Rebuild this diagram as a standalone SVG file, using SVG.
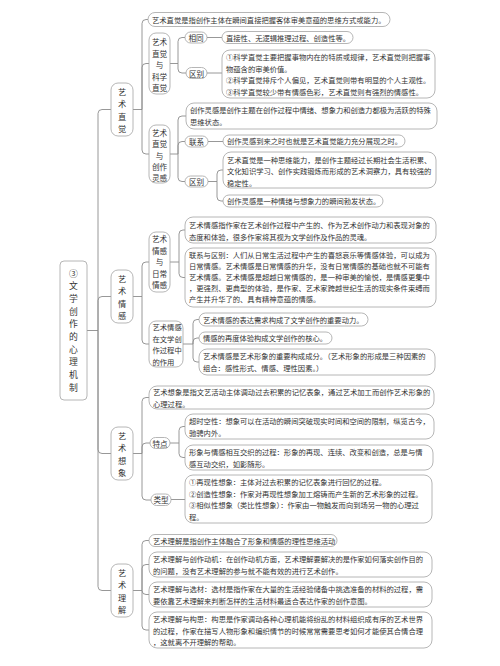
<svg xmlns="http://www.w3.org/2000/svg" width="500" height="666" viewBox="0 0 500 666">
<style>
.bg{fill:#fff}
.box{fill:#fff;stroke:#a3a3a3;stroke-width:0.8}
.c{fill:none;stroke:#8c8c8c;stroke-width:0.9}
text{font-family:"Noto Sans CJK SC","Noto Sans",sans-serif;fill:#333;dominant-baseline:central}
.t{font-size:7.3px}
.m{text-anchor:middle;font-size:7.6px}
.l1{text-anchor:middle;font-size:8.2px}
.r{text-anchor:middle;font-size:8.8px}
</style>
<rect class="bg" x="0" y="0" width="500" height="666"/>
<g id="connectors">
<path class="c" d="M87,330.5 H98"/>
<path class="c" d="M98,330.5 V113.5 Q98,109.5 102,109.5 H111"/>
<path class="c" d="M98,330.5 V300.5 Q98,296.5 102,296.5 H111"/>
<path class="c" d="M98,330.5 V449.5 Q98,453.5 102,453.5 H111"/>
<path class="c" d="M98,330.5 V586.5 Q98,590.5 102,590.5 H111"/>
<path class="c" d="M133,109.5 H142"/>
<path class="c" d="M142,109.5 V23.5 Q142,19.5 146,19.5 H148"/>
<path class="c" d="M142,109.5 V67.5 Q142,63.5 146,63.5 H149"/>
<path class="c" d="M142,109.5 V150 Q142,154 146,154 H149"/>
<path class="c" d="M170,63.5 H178"/>
<path class="c" d="M178,63.5 V41.5 Q178,37.5 182,37.5 H185"/>
<path class="c" d="M178,63.5 V69 Q178,73 182,73 H186"/>
<path class="c" d="M207,37.5 H222"/>
<path class="c" d="M207,73 H222"/>
<path class="c" d="M170,154 H178"/>
<path class="c" d="M178,154 V120 Q178,116 182,116 H186"/>
<path class="c" d="M178,154 V145.5 Q178,141.5 182,141.5 H185"/>
<path class="c" d="M178,154 V177.5 Q178,181.5 182,181.5 H185"/>
<path class="c" d="M208,141.5 H223"/>
<path class="c" d="M208,181.5 H217"/>
<path class="c" d="M217,181.5 V174 Q217,170 221,170 H223"/>
<path class="c" d="M217,181.5 V197 Q217,201 221,201 H223"/>
<path class="c" d="M133,296.5 H142"/>
<path class="c" d="M142,296.5 V266 Q142,262 146,262 H149"/>
<path class="c" d="M142,296.5 V340 Q142,344 146,344 H149"/>
<path class="c" d="M170,262 H179"/>
<path class="c" d="M179,262 V234 Q179,230 183,230 H185"/>
<path class="c" d="M179,262 V273.5 Q179,277.5 183,277.5 H185"/>
<path class="c" d="M183,344 H193"/>
<path class="c" d="M193,344 V323.5 Q193,319.5 197,319.5 H199"/>
<path class="c" d="M193,344 V342 Q193,338 197,338 H199"/>
<path class="c" d="M193,344 V358 Q193,362 197,362 H199"/>
<path class="c" d="M133,453.5 H142"/>
<path class="c" d="M142,453.5 V401.5 Q142,397.5 146,397.5 H149"/>
<path class="c" d="M142,453.5 V447 Q142,443 146,443 H150"/>
<path class="c" d="M142,453.5 V496 Q142,500 146,500 H151"/>
<path class="c" d="M170,443 H179"/>
<path class="c" d="M179,443 V430.5 Q179,426.5 183,426.5 H185"/>
<path class="c" d="M179,443 V453.5 Q179,457.5 183,457.5 H185"/>
<path class="c" d="M171,499.5 H185"/>
<path class="c" d="M133,590.5 H142"/>
<path class="c" d="M142,590.5 V544.5 Q142,540.5 146,540.5 H149"/>
<path class="c" d="M142,590.5 V568.5 Q142,564.5 146,564.5 H149"/>
<path class="c" d="M142,590.5 Q142,594.5 146,594.5 H149"/>
<path class="c" d="M142,590.5 V626 Q142,630 146,630 H149"/>
</g>
<g id="root">
<rect class="box" x="60" y="261" width="27" height="139" rx="4"/>
<text class="r" x="73.5" y="273">③</text><text class="r" x="73.5" y="285.7">文</text><text class="r" x="73.5" y="298.4">学</text><text class="r" x="73.5" y="311.1">创</text><text class="r" x="73.5" y="323.8">作</text><text class="r" x="73.5" y="336.5">的</text><text class="r" x="73.5" y="349.2">心</text><text class="r" x="73.5" y="361.9">理</text><text class="r" x="73.5" y="374.6">机</text><text class="r" x="73.5" y="387.3">制</text>
</g>
<g id="n-zhijue">
<rect class="box" x="111" y="83" width="22" height="53" rx="7"/>
<text class="l1" x="122" y="91">艺</text><text class="l1" x="122" y="103.3">术</text><text class="l1" x="122" y="115.7">直</text><text class="l1" x="122" y="128">觉</text>
</g>
<g id="n-zj-def">
<rect class="box" x="148" y="12.5" width="242" height="14" rx="7"/>
<text class="t" x="152" y="19.5">艺术直觉是指创作主体在瞬间直接把握客体审美意蕴的思维方式或能力。</text>
</g>
<g id="n-zj-kx">
<rect class="box" x="149" y="33" width="21" height="61" rx="7"/>
<text class="m" x="159.5" y="41.5">艺术</text><text class="m" x="159.5" y="53">直觉</text><text class="m" x="159.5" y="64.5">与</text><text class="m" x="159.5" y="76">科学</text><text class="m" x="159.5" y="87.5">直觉</text>
</g>
<g id="n-kx-same">
<rect class="box" x="185" y="32" width="22" height="11" rx="5.5"/>
<text class="m" x="196" y="37.5">相同</text>
</g>
<g id="n-kx-same-t">
<rect class="box" x="222" y="31.5" width="131" height="12" rx="6"/>
<text class="t" x="226" y="37.5">直接性、无逻辑推理过程、创造性等。</text>
</g>
<g id="n-kx-diff">
<rect class="box" x="186" y="67.5" width="21" height="11" rx="5.5"/>
<text class="m" x="196.5" y="73">区别</text>
</g>
<g id="n-kx-diff-t">
<rect class="box" x="222" y="50" width="213" height="48" rx="8"/>
<text class="t" x="226" y="57">①科学直觉主要把握事物内在的特质或规律，艺术直觉则把握事</text>
<text class="t" x="226" y="68.5">物蕴含的审美价值。</text>
<text class="t" x="226" y="80">②科学直觉排斥个人偏见，艺术直觉则带有明显的个人主观性。</text>
<text class="t" x="226" y="91.5">③科学直觉较少带有情感色彩，艺术直觉则有强烈的情感性。</text>
</g>
<g id="n-zj-lg">
<rect class="box" x="149" y="125" width="21" height="58" rx="7"/>
<text class="m" x="159.5" y="132.5">艺术</text><text class="m" x="159.5" y="143.8">直觉</text><text class="m" x="159.5" y="155">与</text><text class="m" x="159.5" y="166.3">创作</text><text class="m" x="159.5" y="177.5">灵感</text>
</g>
<g id="n-lg-def">
<rect class="box" x="186" y="103" width="251" height="26" rx="8"/>
<text class="t" x="190" y="109.5">创作灵感是创作主题在创作过程中情绪、想象力和创造力都极为活跃的特殊</text>
<text class="t" x="190" y="122">思维状态。</text>
</g>
<g id="n-lg-link">
<rect class="box" x="185" y="136" width="23" height="11" rx="5.5"/>
<text class="m" x="196.5" y="141.5">联系</text>
</g>
<g id="n-lg-link-t">
<rect class="box" x="223" y="135" width="182" height="12" rx="6"/>
<text class="t" x="227" y="141.2">创作灵感到来之时也就是艺术直觉能力充分展现之时。</text>
</g>
<g id="n-lg-diff">
<rect class="box" x="185" y="176" width="23" height="11" rx="5.5"/>
<text class="m" x="196.5" y="181.5">区别</text>
</g>
<g id="n-lg-diff-1">
<rect class="box" x="223" y="152" width="213" height="36" rx="8"/>
<text class="t" x="227" y="159.5">艺术直觉是一种思维能力，是创作主题经过长期社会生活积累、</text>
<text class="t" x="227" y="171">文化知识学习、创作实践锻炼而形成的艺术洞察力，具有较强的</text>
<text class="t" x="227" y="182.5">稳定性。</text>
</g>
<g id="n-lg-diff-2">
<rect class="box" x="223" y="195" width="160" height="12" rx="6"/>
<text class="t" x="227" y="201">创作灵感是一种情绪与想象力的瞬间勃发状态。</text>
</g>
<g id="n-qinggan">
<rect class="box" x="111" y="270" width="22" height="53" rx="7"/>
<text class="l1" x="122" y="278">艺</text><text class="l1" x="122" y="290.3">术</text><text class="l1" x="122" y="302.7">情</text><text class="l1" x="122" y="315">感</text>
</g>
<g id="n-qg-rc">
<rect class="box" x="149" y="232" width="21" height="60" rx="7"/>
<text class="m" x="159.5" y="238.5">艺术</text><text class="m" x="159.5" y="250">情感</text><text class="m" x="159.5" y="261.5">与</text><text class="m" x="159.5" y="273">日常</text><text class="m" x="159.5" y="284.5">情感</text>
</g>
<g id="n-rc-def">
<rect class="box" x="185" y="217" width="251" height="26" rx="8"/>
<text class="t" x="189" y="224.5">艺术情感指作家在艺术创作过程中产生的、作为艺术创作动力和表现对象的</text>
<text class="t" x="189" y="236.5">态度和体验，很多作家将其视为文学创作及作品的灵魂。</text>
</g>
<g id="n-rc-link">
<rect class="box" x="185" y="248" width="251" height="59" rx="8"/>
<text class="t" x="189" y="255">联系与区别：人们从日常生活过程中产生的喜怒哀乐等情感体验，可以成为</text>
<text class="t" x="189" y="266">日常情感。艺术情感是日常情感的升华，没有日常情感的基础也就不可能有</text>
<text class="t" x="189" y="277">艺术情感。艺术情感是超越日常情感的，是一种审美的愉悦，是情感更集中</text>
<text class="t" x="189" y="288">，更强烈、更典型的体验，是作家、艺术家跨越世纪生活的现实条件束缚而</text>
<text class="t" x="189" y="299">产生并升华了的、具有精神意蕴的情感。</text>
</g>
<g id="n-qg-zy">
<rect class="box" x="149" y="321" width="34" height="46" rx="7"/>
<text class="t" x="152.5" y="327">艺术情感</text><text class="t" x="152.5" y="338.5">在文学创</text><text class="t" x="152.5" y="350">作过程中</text><text class="t" x="152.5" y="361.5">的作用</text>
</g>
<g id="n-zy-1">
<rect class="box" x="199" y="313" width="169" height="13" rx="6.5"/>
<text class="t" x="203" y="319.5">艺术情感的表达需求构成了文学创作的重要动力。</text>
</g>
<g id="n-zy-2">
<rect class="box" x="199" y="332" width="133" height="12" rx="6"/>
<text class="t" x="203" y="338">情感的再度体验构成文学创作的核心。</text>
</g>
<g id="n-zy-3">
<rect class="box" x="199" y="349" width="236" height="26" rx="8"/>
<text class="t" x="203" y="356">艺术情感是艺术形象的重要构成成分。（艺术形象的形成是三种因素的</text>
<text class="t" x="203" y="368">组合：感性形式、情感、理性因素。）</text>
</g>
<g id="n-xiangxiang">
<rect class="box" x="111" y="427" width="22" height="53" rx="7"/>
<text class="l1" x="122" y="435">艺</text><text class="l1" x="122" y="447.3">术</text><text class="l1" x="122" y="459.7">想</text><text class="l1" x="122" y="472">象</text>
</g>
<g id="n-xx-def">
<rect class="box" x="149" y="386" width="285" height="23" rx="8"/>
<text class="t" x="153" y="392">艺术想象是指文艺活动主体调动过去积累的记忆表象，通过艺术加工而创作艺术形象的</text>
<text class="t" x="153" y="403.5">心理过程。</text>
</g>
<g id="n-xx-td">
<rect class="box" x="150" y="437.5" width="20" height="11" rx="5.5"/>
<text class="m" x="160" y="443">特点</text>
</g>
<g id="n-td-1">
<rect class="box" x="185" y="414" width="249" height="25" rx="8"/>
<text class="t" x="189" y="420.5">超时空性：想象可以在活动的瞬间突破现实时间和空间的限制，纵览古今，</text>
<text class="t" x="189" y="432.5">驰骋内外。</text>
</g>
<g id="n-td-2">
<rect class="box" x="185" y="445" width="248" height="25" rx="8"/>
<text class="t" x="189" y="451.5">形象与情感相互交织的过程：形象的再现、连续、改变和创造，总是与情</text>
<text class="t" x="189" y="463.5">感互动交织，如影随形。</text>
</g>
<g id="n-xx-lx">
<rect class="box" x="151" y="494" width="20" height="11.5" rx="5.5"/>
<text class="m" x="161" y="499.7">类型</text>
</g>
<g id="n-lx-t">
<rect class="box" x="185" y="475" width="247" height="48" rx="8"/>
<text class="t" x="189" y="482">①再现性想象：主体对过去积累的记忆表象进行回忆的过程。</text>
<text class="t" x="189" y="493.5">②创造性想象：作家对再现性想象加工熔铸而产生新的艺术形象的过程。</text>
<text class="t" x="189" y="505">③相似性想象（类比性想象）：作家由一物触发而向到场另一物的心理过</text>
<text class="t" x="189" y="516.5">程。</text>
</g>
<g id="n-lijie">
<rect class="box" x="111" y="564" width="22" height="53" rx="7"/>
<text class="l1" x="122" y="572">艺</text><text class="l1" x="122" y="584.3">术</text><text class="l1" x="122" y="596.7">理</text><text class="l1" x="122" y="609">解</text>
</g>
<g id="n-lj-def">
<rect class="box" x="149" y="534.5" width="188" height="12" rx="6"/>
<text class="t" x="153" y="540.5">艺术理解是指创作主体融合了形象和情感的理性思维活动</text>
</g>
<g id="n-lj-dj">
<rect class="box" x="149" y="552" width="283" height="25" rx="8"/>
<text class="t" x="153" y="558.5">艺术理解与创作动机：在创作动机方面，艺术理解要解决的是作家如何落实创作目的</text>
<text class="t" x="153" y="570.5">的问题，没有艺术理解的参与就不能有效的进行艺术创作。</text>
</g>
<g id="n-lj-xc">
<rect class="box" x="149" y="582" width="283" height="25" rx="8"/>
<text class="t" x="153" y="588.5">艺术理解与选材：选材是指作家在大量的生活经验储备中挑选准备的材料的过程，需</text>
<text class="t" x="153" y="600.5">要依靠艺术理解来判断怎样的生活材料最适合表达作家的创作意图。</text>
</g>
<g id="n-lj-gs">
<rect class="box" x="149" y="612" width="283" height="36" rx="8"/>
<text class="t" x="153" y="619">艺术理解与构思：构思是作家调动各种心理机能将纷乱的材料组织成有序的艺术世界</text>
<text class="t" x="153" y="630.5">的过程，作家在描写人物形象和编织情节的时候常常需要思考如何才能使其合情合理</text>
<text class="t" x="153" y="642">，这就离不开理解的帮助。</text>
</g>
</svg>
